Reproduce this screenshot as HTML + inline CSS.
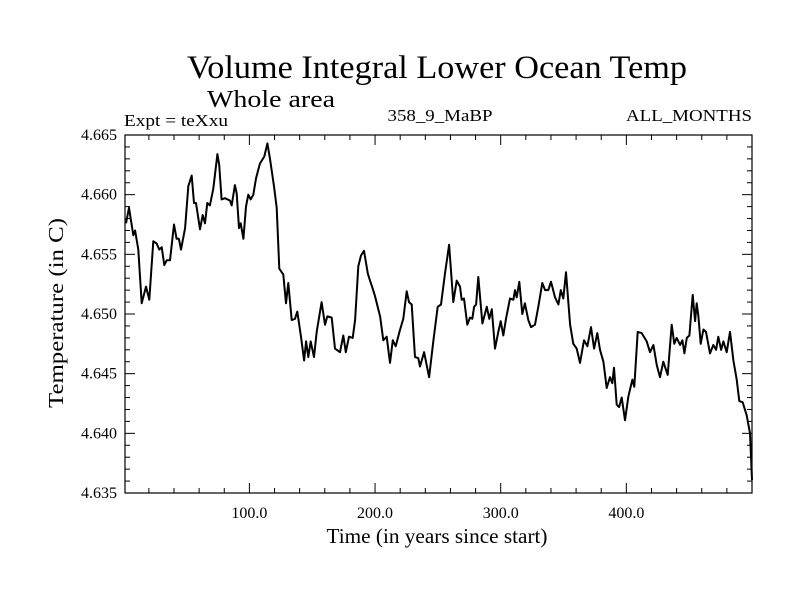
<!DOCTYPE html>
<html><head><meta charset="utf-8"><style>
body{margin:0;background:#fff}
svg{display:block}
text{font-family:"Liberation Serif",serif;fill:#000}
</style></head><body>
<svg id="chart" width="800" height="600" viewBox="0 0 800 600">
<text x="437" y="78" font-size="33" text-anchor="middle" textLength="500" lengthAdjust="spacingAndGlyphs">Volume Integral Lower Ocean Temp</text>
<text x="207" y="107" font-size="24" textLength="128" lengthAdjust="spacingAndGlyphs">Whole area</text>
<text x="124" y="126" font-size="17" textLength="104" lengthAdjust="spacingAndGlyphs">Expt = teXxu</text>
<text x="440" y="121" font-size="17" text-anchor="middle" textLength="105" lengthAdjust="spacingAndGlyphs">358_9_MaBP</text>
<text x="752" y="121" font-size="17" text-anchor="end" textLength="126" lengthAdjust="spacingAndGlyphs">ALL_MONTHS</text>
<text x="0" y="0" font-size="21" text-anchor="middle" textLength="190" lengthAdjust="spacingAndGlyphs" transform="translate(63,313) rotate(-90)">Temperature (in C)</text>
<text x="437" y="543" font-size="21" text-anchor="middle" textLength="221" lengthAdjust="spacingAndGlyphs">Time (in years since start)</text>
<g id="axes"></g>
<rect x="125" y="135" width="627" height="358" fill="none" stroke="#000" stroke-width="1.2"/>
<path id="series" fill="none" stroke="#000" stroke-width="2" stroke-linejoin="round"/>
</svg>
<script>
const years=[1.8,4.2,7.6,9.0,11.6,14.3,17.7,20.3,23.5,26.2,28.3,30.2,32.3,34.2,36.8,40.0,42.1,43.9,45.6,48.8,51.4,54.1,55.9,57.5,60.7,62.8,64.7,66.5,68.6,71.3,74.5,76.0,77.9,80.6,84.6,85.9,88.5,89.9,91.7,93.1,95.2,97.3,99.1,101.0,103.1,105.3,108.4,111.9,114.3,116.4,119.6,121.7,123.8,127.0,129.1,131.0,133.7,136.3,138.1,141.1,143.5,145.1,146.9,148.8,151.4,153.6,157.5,160.2,162.0,165.5,168.1,172.1,174.7,176.7,179.3,182.2,184.1,186.7,188.8,191.2,194.2,196.0,197.9,200.0,204.0,206.6,209.3,211.9,214.1,216.4,219.9,222.5,225.2,227.0,229.2,231.8,234.4,235.8,239.0,243.0,246.4,249.9,252.5,255.7,258.9,262.3,265.0,267.6,269.0,270.8,273.4,275.6,277.4,278.8,280.4,282.2,285.4,288.9,290.9,292.9,295.5,298.1,300.0,302.1,304.2,307.4,310.1,311.4,312.7,314.8,317.2,319.3,322.0,324.1,327.3,329.9,333.1,335.3,337.9,340.0,343.2,345.9,347.8,349.8,352.0,355.2,357.8,360.5,363.1,366.3,369.0,371.9,374.3,376.9,379.0,381.7,384.4,387.0,388.8,390.2,392.3,394.2,396.3,398.9,401.6,404.8,406.3,409.0,412.2,416.2,418.8,421.5,424.2,426.8,429.4,431.3,432.9,436.1,438.2,440.1,442.8,444.6,446.2,448.1,450.2,452.8,454.7,456.0,457.3,459.2,461.3,463.4,466.6,469.2,471.4,473.2,475.4,477.2,479.9,482.5,485.2,487.8,489.9,492.6,495.8,498.4,500.0];
const temps=[4.6576,4.6589,4.6566,4.6570,4.6554,4.6509,4.6523,4.6512,4.6561,4.6559,4.6554,4.6556,4.6541,4.6545,4.6545,4.6575,4.6563,4.6563,4.6554,4.6572,4.6607,4.6616,4.6593,4.6593,4.6571,4.6583,4.6576,4.6593,4.6591,4.6605,4.6634,4.6625,4.6596,4.6597,4.6595,4.6591,4.6608,4.6601,4.6572,4.6576,4.6563,4.6590,4.6600,4.6596,4.6600,4.6614,4.6626,4.6632,4.6643,4.6630,4.6607,4.6589,4.6538,4.6533,4.6509,4.6526,4.6495,4.6496,4.6502,4.6481,4.6461,4.6477,4.6464,4.6477,4.6464,4.6485,4.6510,4.6491,4.6498,4.6497,4.6471,4.6468,4.6482,4.6468,4.6481,4.6480,4.6495,4.6540,4.6549,4.6553,4.6534,4.6528,4.6522,4.6515,4.6498,4.6478,4.6481,4.6459,4.6478,4.6473,4.6487,4.6496,4.6519,4.6510,4.6508,4.6464,4.6463,4.6456,4.6468,4.6447,4.6477,4.6506,4.6508,4.6534,4.6558,4.6510,4.6528,4.6523,4.6512,4.6513,4.6491,4.6497,4.6496,4.6506,4.6508,4.6531,4.6492,4.6506,4.6496,4.6504,4.6471,4.6485,4.6494,4.6482,4.6496,4.6513,4.6512,4.6520,4.6514,4.6527,4.6500,4.6509,4.6495,4.6489,4.6491,4.6506,4.6526,4.6520,4.6520,4.6527,4.6514,4.6508,4.6520,4.6513,4.6535,4.6491,4.6475,4.6471,4.6459,4.6478,4.6473,4.6489,4.6471,4.6484,4.6470,4.6460,4.6438,4.6447,4.6442,4.6455,4.6424,4.6422,4.6430,4.6411,4.6431,4.6445,4.6439,4.6485,4.6484,4.6477,4.6468,4.6474,4.6457,4.6447,4.6460,4.6454,4.6449,4.6491,4.6475,4.6480,4.6474,4.6478,4.6467,4.6480,4.6482,4.6516,4.6494,4.6509,4.6499,4.6475,4.6487,4.6485,4.6467,4.6474,4.6470,4.6481,4.6470,4.6477,4.6468,4.6485,4.6461,4.6445,4.6427,4.6426,4.6415,4.6400,4.6361];
const yTicks=[4.635,4.640,4.645,4.650,4.655,4.660,4.665];
const yTickLabels=["4.635","4.640","4.645","4.650","4.655","4.660","4.665"];
const xTicks=[100,200,300,400];
const xTickLabels=["100.0","200.0","300.0","400.0"];

const X0=125,X1=752,Y0=493,Y1=135,XMIN=1,XMAX=500,YMIN=4.635,YMAX=4.665;
function sx(v){return X0+(v-XMIN)/(XMAX-XMIN)*(X1-X0);}
function sy(v){return Y0-(v-YMIN)/(YMAX-YMIN)*(Y0-Y1);}
const NS="http://www.w3.org/2000/svg";
const axes=document.getElementById('axes');
function line(x1,y1,x2,y2,name){
  const l=document.createElementNS(NS,'line');
  l.setAttribute('x1',x1);l.setAttribute('y1',y1);l.setAttribute('x2',x2);l.setAttribute('y2',y2);
  l.setAttribute('stroke','#000');l.setAttribute('stroke-width','1');
  
  
  axes.appendChild(l);
}
function txt(x,y,s,anchor,size,name){
  const t=document.createElementNS(NS,'text');
  t.setAttribute('x',x);t.setAttribute('y',y);t.setAttribute('text-anchor',anchor);t.setAttribute('font-size',size);
  t.textContent=s;
  
  
  axes.appendChild(t);
}
for(let i=0;i<=30;i++){
  const v=YMIN+i*0.001, y=sy(v), major=(i%5===0), len=major?10:5;
  line(X0,y,X0+len,y,'y-tick');
  line(X1,y,X1-len,y,'y-tick-right');
}
yTicks.forEach((v,i)=>txt(117,sy(v)+5,yTickLabels[i],'end',16,'y-tick-label'));
for(let v=20;v<XMAX;v+=20){
  const x=sx(v), major=(v%100===0), len=major?10:5;
  line(x,Y0,x,Y0-len,'x-tick');
  line(x,Y1,x,Y1+len,'x-tick-top');
}
xTicks.forEach((v,i)=>txt(sx(v),518,xTickLabels[i],'middle',16,'x-tick-label'));
let d='';
years.forEach((yr,i)=>{d+=(i?'L':'M')+sx(yr).toFixed(1)+' '+sy(temps[i]).toFixed(1);});
document.getElementById('series').setAttribute('d',d);
</script>
</body></html>
